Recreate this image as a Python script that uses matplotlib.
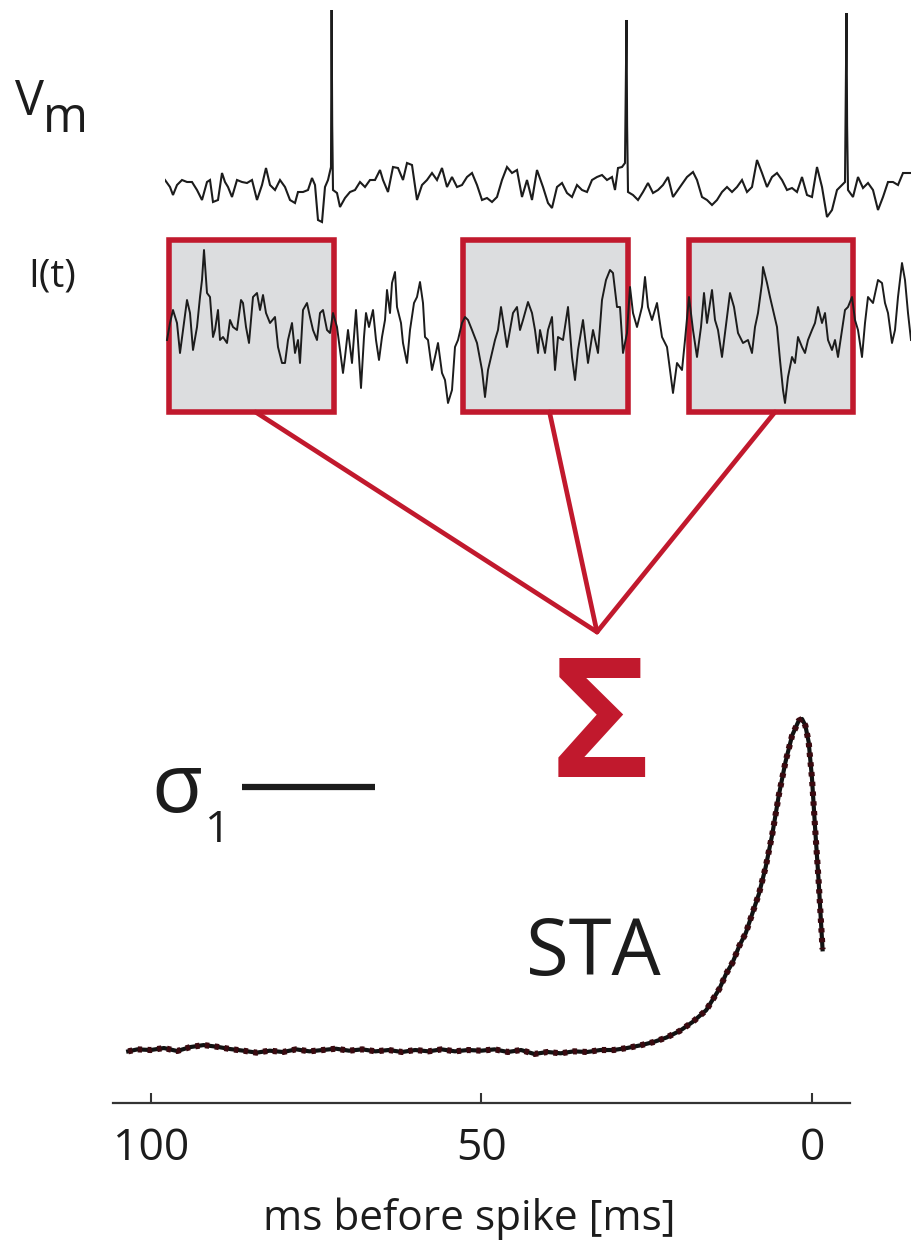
import numpy as np
import matplotlib
matplotlib.use("Agg")
import matplotlib.pyplot as plt
from matplotlib.patches import Rectangle, ConnectionPatch
from matplotlib.lines import Line2D

# ---------------- data ----------------
# membrane potential trace (time in a.u., deflection in a.u.)
vm_t = [0, 5, 8, 12, 17, 22, 27, 32, 37, 42, 45, 48, 53, 57, 60, 63, 67, 72, 77, 82,
        87, 92, 97, 101, 105, 110, 115, 120, 125, 130, 133, 138, 143, 147, 150, 153, 157,
        160, 163, 166, 166.6, 167.2, 168, 172, 175, 180, 185, 190, 195, 200, 205, 210, 215,
        218, 223, 228, 233, 238, 242, 247, 252, 257, 262, 267, 272, 277, 282, 287, 292,
        297, 302, 307, 312, 317, 322, 327, 332, 337, 342, 347, 352, 357, 362, 367, 372,
        378, 383, 387, 392, 397, 402, 407, 412, 417, 422, 427, 432, 437, 442, 447, 450,
        453, 457, 460, 461.5, 462.1, 463, 468, 473, 478, 483, 488, 493, 498, 503, 508,
        515, 522, 528, 532, 537, 542, 547, 552, 557, 562, 567, 572, 577, 582, 587, 592,
        597, 602, 607, 612, 617, 622, 627, 632, 637, 642, 647, 652, 657, 662, 667, 672,
        677, 680, 681.5, 682.1, 683, 688, 693, 698, 703, 708, 713, 718, 723, 728, 733,
        738, 745]
vm_val = [5, -2, -10, 0, 5, 3, 3, -5, -15, 3, 5, -17, -15, 12, 3, -2, -12, 5, 3, 2,
          5, -15, 0, 17, 0, -5, 5, -2, -15, -18, -7, -7, -5, 7, 0, -35, -37,
          -2, 5, 18, 175, 60, -5, -8, -22, -13, -7, -5, 3, -2, 5, 5, 15,
          5, -7, 18, 17, 5, 22, 20, -15, 0, 5, 12, 5, 17, -2, 8, -2,
          0, 8, 12, 0, -15, -13, -17, -12, 5, 18, 12, 15, -12, 5, -15, 15,
          -2, -18, -23, -2, 2, -8, -12, 0, -5, -7, 5, 8, 10, 5, 8, -5,
          17, 18, 22, 165, 60, -7, -10, -15, -7, 2, -8, -5, 0, 8, -12,
          -2, 8, 13, 5, -12, -15, -20, -15, -7, -2, -7, -2, 5, -7, -2, 25,
          12, -2, 8, 12, 5, -5, -3, -7, 8, -10, -12, 18, -2, -32, -25, -5,
          0, 3, 172, 60, -5, -12, 8, -3, 2, -5, -25, -12, 3, 3, 0,
          12, 12]

# injected current trace I(t)
i_t = [2, 5, 8, 12, 15, 18, 22, 25, 28, 32, 35, 37, 39, 42, 45, 48, 50, 53, 55, 58,
       62, 65, 68, 72, 76, 78, 81, 84, 88, 92, 95, 98, 101, 105, 110, 113, 117, 120,
       123, 127, 130, 133, 135, 138, 142, 145, 148, 152, 155, 158, 162, 165, 168, 172,
       175, 178, 180, 183, 187, 191, 194, 196, 199, 201, 204, 208, 211, 214, 217, 220,
       222, 225, 227, 230, 232, 236, 238, 242, 245, 249, 252, 255, 258, 260, 263, 267,
       270, 273, 277, 280, 283, 287, 290, 293, 297, 300, 303, 307, 312, 317, 320, 323,
       327, 330, 333, 336, 338, 342, 345, 348, 352, 355, 358, 363, 367, 370, 373, 375,
       380, 383, 387, 390, 393, 398, 403, 407, 410, 413, 418, 423, 428, 433, 437, 441,
       445, 448, 452, 455, 458, 462, 465, 468, 472, 477, 480, 483, 487, 492, 497, 502,
       505, 508, 512, 517, 520, 524, 528, 532, 536, 539, 542, 547, 550, 553, 557, 562,
       565, 569, 573, 578, 583, 587, 590, 593, 597, 598, 602, 605, 608, 612, 615, 618,
       620, 623, 627, 630, 633, 637, 640, 643, 647, 650, 653, 657, 660, 663, 667, 670,
       673, 677, 680, 683, 687, 690, 693, 697, 700, 703, 708, 713, 717, 720, 723, 727,
       730, 733, 737, 740, 743, 746]
i_val = [-10, 7, 20, 7, -23, 0, 30, 17, -20, 3, 33, 50, 80, 37, 33, -7, 0, 20, -10, -7,
         -13, 10, 3, 0, 30, 27, 3, -13, 33, 37, 20, 35, 17, 7, 13, -17, -33, -33,
         -10, 7, -23, -10, -33, 20, 27, 13, 0, -10, 17, 20, 0, -3, 17, 3,
         -20, -43, -27, 0, -33, 20, -27, -58, -7, 17, 3, 20, -10, -30, -7, 10,
         40, 17, 47, 58, 23, 7, -13, -33, 0, 27, 33, 48, 27, -7, -10, -40,
         -27, -13, -43, -50, -73, -60, -17, -10, 7, 13, 10, 0, -13, -40, -67, -40,
         -23, -10, 0, 23, 10, -17, 0, 17, 23, 0, 10, 28, 17, 0, -23, 0,
         -23, 0, 13, -40, -7, -10, 23, -27, -50, -20, 10, -33, 0, -23, 30, 50,
         60, 57, 23, 23, -23, -3, 43, 17, 3, 23, 53, 23, 10, 27, -7, -17,
         -40, -63, -33, -40, -10, 33, 0, -27, 3, 37, 7, 40, 10, 0, -27, 13,
         37, 23, -3, -13, -10, -23, 3, 17, 47, 63, 47, 33, 20, 3, -30, -60,
         -73, -47, -27, -33, -7, -17, -23, -10, 0, 7, 23, 7, 17, -10, -20, -10,
         -27, 0, 20, 23, 33, 10, 0, -27, 7, 33, 27, 50, 47, 27, 17, -13,
         0, 33, 67, 50, 17, -10]

# spike-triggered windows (start, end) on the I(t) time axis
window_start = [4, 298, 524]
window_end = [169, 463, 688]

# spike-triggered average (ms before spike, normalised amplitude)
sta_ms = [103.4, 102, 100, 98, 96, 94, 92, 90, 88, 86, 84, 82, 80, 78, 76, 74, 72, 70,
          68, 66, 64, 62, 60, 58, 56, 54, 52, 50, 48, 46, 44, 42, 40, 38, 36, 34, 32,
          30, 28, 26, 24, 22, 20, 18, 16, 14, 13, 12, 11, 10, 9, 8, 7, 6, 5, 4, 3, 2,
          1.5, 1, 0.5, 0, -0.5, -1, -1.6]
sta_val = [-0.01, -0.004, -0.006, 0.0, -0.009, 0.003, 0.009, 0.004, -0.003, -0.008,
           -0.014, -0.008, -0.012, -0.004, -0.01, -0.006, -0.002, -0.008, -0.004, -0.01,
           -0.006, -0.012, -0.006, -0.01, -0.004, -0.01, -0.006, -0.008, -0.004, -0.012,
           -0.006, -0.018, -0.012, -0.016, -0.01, -0.012, -0.006, -0.006, 0.0, 0.008,
           0.018, 0.032, 0.052, 0.08, 0.115, 0.18, 0.225, 0.26, 0.31, 0.35, 0.41, 0.47,
           0.55, 0.65, 0.77, 0.87, 0.95, 0.995, 1.0, 0.98, 0.93, 0.82, 0.66, 0.51, 0.30]
sta_ticks = [100, 50, 0]
sta_ticklabels = ["100", "50", "0"]

# ---------------- styling ----------------
W, H, DPI = 911, 1243, 100
RED = "#c1192d"
GRAY = "#dcdddf"
INK = "#1c1c1c"

plt.rcParams["font.family"] = ["Open Sans", "DejaVu Sans"]
fig = plt.figure(figsize=(W / DPI, H / DPI), dpi=DPI)
fig.patch.set_facecolor("white")


def rect(x0, y0, x1, y1):
    return [x0 / W, 1 - y1 / H, (x1 - x0) / W, (y1 - y0) / H]


# --- Vm trace ---
ax_v = fig.add_axes(rect(165, 0, 911, 230))
ax_v.plot(vm_t, vm_val, color=INK, lw=1.5, solid_joinstyle="miter")
ax_v.set_xlim(0, 746)
ax_v.set_ylim(-45, 185)
ax_v.axis("off")

# --- I(t) trace with windows ---
ax_i = fig.add_axes(rect(165, 230, 911, 420))
ax_i.set_xlim(0, 746)
ax_i.set_ylim(-90, 100)
ax_i.axis("off")
y_lo, y_hi = -82, 90
for a, b in zip(window_start, window_end):
    ax_i.add_patch(Rectangle((a, y_lo), b - a, y_hi - y_lo, facecolor=GRAY,
                             edgecolor="none", zorder=1))
    ax_i.add_patch(Rectangle((a, y_lo), b - a, y_hi - y_lo, facecolor="none",
                             edgecolor=RED, lw=4.0, zorder=2, joinstyle="miter"))
ax_i.plot(i_t, i_val, color=INK, lw=1.4, zorder=3)

# connector lines to the sum sign
apex = (597 / W, 1 - 632 / H)
for a, b in zip(window_start, window_end):
    con = ConnectionPatch(xyA=((a + b) / 2 + 4, y_lo), coordsA=ax_i.transData,
                          xyB=apex, coordsB=fig.transFigure,
                          color=RED, lw=3.4, zorder=1)
    fig.add_artist(con)

fig.text(601 / W, 1 - 777 / H, "Σ", fontsize=120, fontweight="bold", color=RED,
         ha="center", va="baseline")

# --- labels ---
fig.text(15 / W, 1 - 115 / H, "V", fontsize=35, color=INK, ha="left", va="baseline")
fig.text(43 / W, 1 - 132 / H, "m", fontsize=35, color=INK, ha="left", va="baseline")
fig.text(28 / W, 1 - 287 / H, "I(t)", fontsize=28, color=INK, ha="left", va="baseline")

# --- sigma scale bar ---
fig.text(151 / W, 1 - 812 / H, "σ", fontsize=60, color=INK, ha="left", va="baseline")
fig.text(205 / W, 1 - 842 / H, "1", fontsize=32, color=INK, ha="left", va="baseline")
fig.add_artist(Line2D([242 / W, 375 / W], [1 - 787 / H, 1 - 787 / H],
                      transform=fig.transFigure, color=INK, lw=4.5,
                      solid_capstyle="butt"))

# --- STA panel ---
ax_s = fig.add_axes(rect(113, 640, 850, 1103))
ax_s.plot(sta_ms, sta_val, color="#111111", lw=3.0, solid_joinstyle="round",
          zorder=3)
ax_s.plot(sta_ms, sta_val, color="#3a0a10", lw=4.4, linestyle=(0, (0.7, 0.9)),
          zorder=4)
ax_s.set_xlim(105.7, -5.75)
ax_s.set_ylim(-0.167, 1.24)
for side in ["left", "right", "top"]:
    ax_s.spines[side].set_visible(False)
ax_s.spines["bottom"].set_color("#333333")
ax_s.spines["bottom"].set_linewidth(1.6)
ax_s.set_yticks([])
ax_s.set_xticks(sta_ticks)
ax_s.set_xticklabels(sta_ticklabels)
ax_s.tick_params(axis="x", direction="in", length=7, width=1.5, color="#333333",
                 labelsize=32, labelcolor=INK, pad=17)
ax_s.set_xlabel("ms before spike [ms]", fontsize=30.5, color=INK, labelpad=19,
                x=0.484)
ax_s.patch.set_alpha(0)

ax_s.text(526 / W, 1 - 975 / H, "STA", transform=fig.transFigure, fontsize=56,
          color=INK, ha="left", va="baseline")

fig.savefig("out.png", dpi=DPI, facecolor="white")
